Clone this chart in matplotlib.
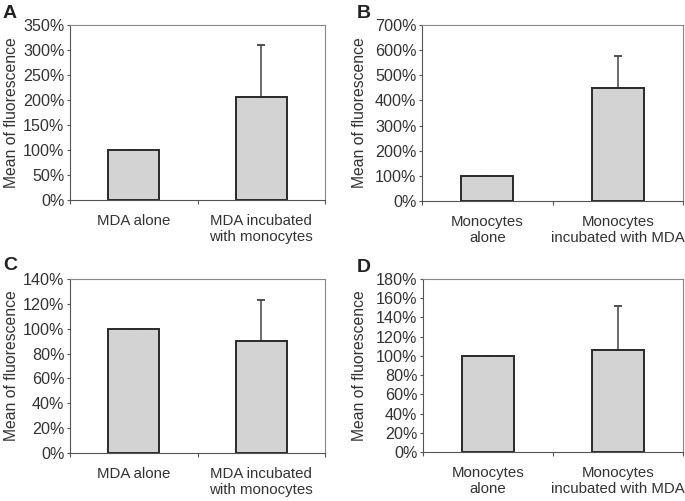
import matplotlib
matplotlib.use("Agg")
import matplotlib.pyplot as plt
from matplotlib.ticker import FuncFormatter

plt.rcParams["font.family"] = ["Liberation Sans", "DejaVu Sans"]

# panel data
labels_mda = ["MDA alone", "MDA incubated\nwith monocytes"]
labels_mono = ["Monocytes\nalone", "Monocytes\nincubated with MDA"]

values_a = [100, 206]
err_a = [0, 105]
values_b = [100, 450]
err_b = [0, 125]
values_c = [100, 90]
err_c = [0, 33]
values_d = [100, 106]
err_d = [0, 46]

ylims = [350, 700, 140, 180]
ysteps = [50, 100, 20, 20]

panels = [
  ("A", labels_mda, values_a, err_a),
  ("B", labels_mono, values_b, err_b),
  ("C", labels_mda, values_c, err_c),
  ("D", labels_mono, values_d, err_d),
]

W, H = 685, 501
# axes boxes in pixels: left, top, right, bottom
boxes = [
  (70, 25, 325, 200),
  (422, 25, 683, 201),
  (70, 279, 325, 453),
  (423, 279, 683, 452),
]
# pixel positions for y labels (x centre) and panel letters
ylabel_x = [12, 359, 12, 359]
letter_pos = [(3, 13), (357, 13), (3, 265), (357, 267)]

text_col = "#333333"
frame_col = "#888888"

fig = plt.figure(figsize=(W / 100, H / 100), dpi=100)

for i, (letter, labels, vals, errs) in enumerate(panels):
  l, t, r, b = boxes[i]
  ax = fig.add_axes([l / W, 1 - b / H, (r - l) / W, (b - t) / H])
  x = [0, 1]
  ax.bar(x, vals, width=0.4, color="#d3d3d3", edgecolor="#2a2a2a", linewidth=1.4, zorder=2)
  ax.errorbar(x, vals, yerr=[[0, 0], errs], fmt="none", ecolor="#444444",
              elinewidth=1.1, capsize=3, capthick=1.3, zorder=1)
  ax.set_xlim(-0.5, 1.5)
  ax.set_ylim(0, ylims[i])
  ax.set_yticks(range(0, ylims[i] + 1, ysteps[i]))
  ax.yaxis.set_major_formatter(FuncFormatter(lambda v, p: f"{int(v)}%"))
  ax.set_xticks([-0.5, 0.5, 1.5])
  ax.set_xticklabels([])
  ax.set_xticks(x, minor=True)
  ax.set_xticklabels(labels, minor=True, fontsize=10.8, color=text_col)
  ax.tick_params(axis="x", which="minor", length=0, pad=10)
  ax.tick_params(axis="x", which="major", length=3, color="#555555", direction="out")
  ax.tick_params(axis="y", length=2.5, color="#555555", labelsize=11.6, labelcolor=text_col, pad=1.5)
  for side in ["top", "right"]:
    ax.spines[side].set_color(frame_col)
  for side in ["left", "bottom"]:
    ax.spines[side].set_color("#555555")
  ax.set_ylabel("Mean of fluorescence", fontsize=11.3, color=text_col)
  ax.yaxis.set_label_coords((ylabel_x[i] - l) / (r - l), 0.5)
  ax.yaxis.label.set_va("center")
  lx, ly = letter_pos[i]
  fig.text(lx / W, 1 - ly / H, letter,
           fontsize=14, fontweight="bold", color="#222222", va="center", ha="left")

fig.savefig("out.png", dpi=100)
